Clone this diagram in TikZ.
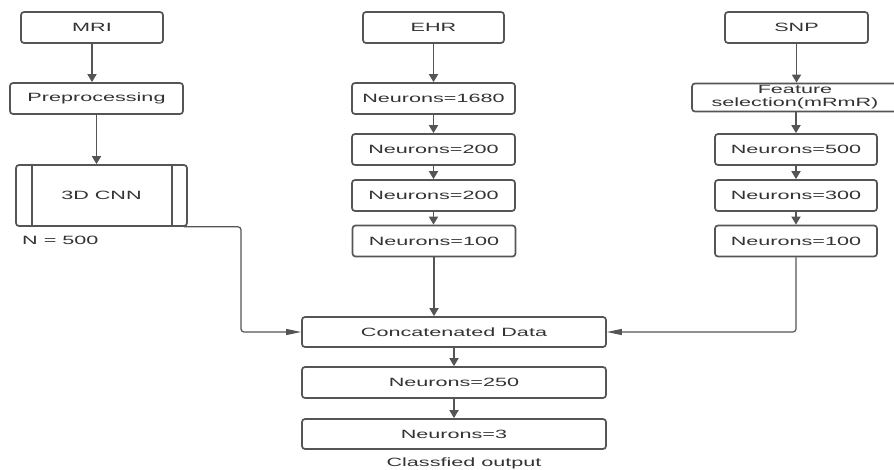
\documentclass[tikz,border=0pt]{standalone}
\usepackage{fontspec}
\setmainfont{Liberation Sans}[FakeStretch=1.8]
\usetikzlibrary{arrows.meta,calc,positioning}
\definecolor{linegray}{HTML}{555555}
\definecolor{textgray}{HTML}{333333}

\begin{document}
\begin{tikzpicture}[x=1pt,y=-1pt,
  box/.style={draw=linegray,line width=1.7pt,rounded corners=3pt,minimum height=31pt,inner sep=0pt,text=textgray,font=\fontsize{12}{13}\selectfont},
  flow/.style={draw=linegray,line width=1.7pt,-{Triangle[length=8pt,width=9pt]}},
  merge/.style={draw=linegray,line width=1.2pt,rounded corners=3pt,-{Triangle[length=15pt,width=6pt]}},
  lbl/.style={text=textgray,font=\fontsize{12}{13}\selectfont,inner sep=0pt}]
\useasboundingbox (0,0) rectangle (894,470);
\node[box,minimum width=142pt] (mri) at (92,27.5) {MRI};
\node[box,minimum width=173pt] (prep) at (96.5,98.5) {Preprocessing};
\node[box,minimum width=171pt,minimum height=61pt] (cnn) at (101.5,195.5) {3D CNN};
\draw[linegray,line width=1.7pt] ($(cnn.north west)+(17,0)$) -- ($(cnn.south west)+(17,0)$);
\draw[linegray,line width=1.7pt] ($(cnn.north east)+(-16,0)$) -- ($(cnn.south east)+(-16,0)$);
\node[lbl,anchor=west] (n500) at (22,240) {N = 500};
\node[box,minimum width=141pt] (ehr) at (433.5,27.5) {EHR};
\node[box,minimum width=163pt] (e1) at (433.5,98.5) {Neurons=1680};
\node[box,minimum width=163pt] (e2) at (433.5,149.5) {Neurons=200};
\node[box,minimum width=163pt] (e3) at (433.5,195.5) {Neurons=200};
\node[box,minimum width=163pt] (e4) at (434,241) {Neurons=100};
\node[box,minimum width=143pt] (snp) at (796.5,27.5) {SNP};
\node[box,minimum width=206pt,minimum height=28pt,align=center] (fs) at (795,97.5) {Feature\\selection(mRmR)};
\node[box,minimum width=162pt] (s1) at (796,149.5) {Neurons=500};
\node[box,minimum width=162pt] (s2) at (796,195.5) {Neurons=300};
\node[box,minimum width=162pt] (s3) at (796,241) {Neurons=100};
\node[box,minimum width=304pt,minimum height=30pt] (concat) at (454,332) {Concatenated Data};
\node[box,minimum width=304pt] (n250) at (454,382.5) {Neurons=250};
\node[box,minimum width=304pt,minimum height=30pt] (n3) at (454,434) {Neurons=3};
\node[lbl] (out) at (464,463) {Classfied output};
\coordinate (bend) at (241,332);
\draw[flow] (mri.south) -- (mri.south |- prep.north);
\draw[flow] (prep.south) -- (prep.south |- cnn.north);
\draw[flow] (ehr.south) -- (e1.north);
\draw[flow] (e1.south) -- (e2.north);
\draw[flow] (e2.south) -- (e3.north);
\draw[flow] (e3.south) -- (e3.south |- e4.north);
\draw[flow] (e4.south) -- (e4.south |- concat.north);
\draw[flow] (snp.south) -- (snp.south |- fs.north);
\draw[flow] (s1.north |- fs.south) -- (s1.north);
\draw[flow] (s1.south) -- (s2.north);
\draw[flow] (s2.south) -- (s3.north);
\draw[flow] (concat.south) -- (n250.north);
\draw[flow] (n250.south) -- (n3.north);
\draw[merge] ([xshift=-4pt]cnn.south east) -| (bend) -- (concat.west);
\draw[merge] (s3.south) |- (concat.east);
\end{tikzpicture}
\end{document}
